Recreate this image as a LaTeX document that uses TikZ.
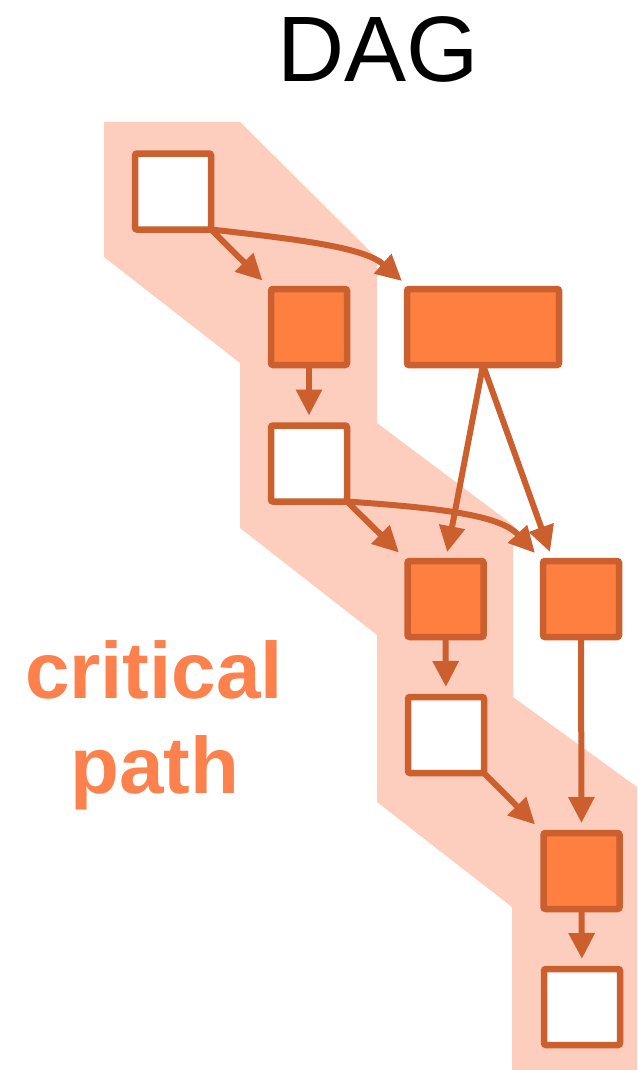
\documentclass[tikz,border=0pt]{standalone}
\usepackage{fontspec}
\setmainfont{Liberation Sans}
\usetikzlibrary{arrows.meta,calc}
\definecolor{bandbg}{RGB}{253,206,189}
\definecolor{edgeclr}{RGB}{204,95,46}
\definecolor{taskfill}{RGB}{254,127,64}
\definecolor{labelclr}{RGB}{252,129,76}
\tikzset{
  taskbox/.style={draw=edgeclr, line width=6.5pt, rounded corners=2pt, outer sep=0pt,
    minimum width=76pt, minimum height=76pt, inner sep=0pt},
  donebox/.style={taskbox, fill=white},
  hotbox/.style={taskbox, fill=taskfill},
  dep/.style={draw=edgeclr, line width=6pt, -{Triangle[length=26pt,width=25pt]}},
}
\begin{document}
\begin{tikzpicture}[x=1pt,y=-1pt]
\useasboundingbox (0,0) rectangle (637,1070);
% critical path band
\fill[bandbg] (104,122) -- (240,122) -- (377,258) -- (377,423) -- (513,525) -- (513,697)
  -- (637,787) -- (637,1070) -- (512,1070) -- (512,907) -- (377,802) -- (377,635)
  -- (240,528) -- (240,363) -- (104,257) -- cycle;
% title
\node[anchor=base, inner sep=0pt, font=\fontsize{93}{93}\selectfont] (title) at (378.5,82) {DAG};
% label
\node[anchor=base, inner sep=0pt, text=labelclr, font=\fontsize{80}{95}\selectfont\bfseries] (lab1) at (154,698) {critical};
\node[anchor=base, inner sep=0pt, text=labelclr, font=\fontsize{80}{95}\selectfont\bfseries] (lab2) at (155,793) {path};
% tasks
\node[donebox] (A) at (173,191.5) {};
\node[hotbox]  (B) at (309,327) {};
\node[hotbox, minimum width=152pt] (C) at (483,327) {};
\node[donebox] (D) at (309,463.5) {};
\node[hotbox]  (E) at (445.5,599) {};
\node[hotbox]  (F) at (581,599) {};
\node[donebox] (G) at (446,735) {};
\node[hotbox]  (H) at (581.5,871) {};
\node[donebox] (I) at (582,1007) {};
% tips
\coordinate (tAC) at ($(C.north west)+(-5,-8)$);
\coordinate (tDF) at ($(F.north west)+(-8,-8)$);
\coordinate (tCF) at ($(F.north west)+(7,-9)$);
% dependencies
\draw[dep, shorten >=12pt] (A.south east) -- (B.north west);
\draw[dep] (A.south east) .. controls (305,240) and (365,248) .. (tAC);
\draw[dep, shorten >=10pt] (B.south) -- (D.north);
\draw[dep, shorten >=9pt] (C.south) -- (E.north);
\draw[dep] (C.south) -- (tCF);
\draw[dep, shorten >=12pt] (D.south east) -- (E.north west);
\draw[dep] (D.south east) .. controls (440,508) and (500,515) .. (tDF);
\draw[dep, shorten >=10pt] (E.south) -- (G.north);
\draw[dep, shorten >=10pt] (F.south) -- (H.north);
\draw[dep, shorten >=12pt] (G.south east) -- (H.north west);
\draw[dep, shorten >=10pt] (H.south) -- (I.north);
\end{tikzpicture}
\end{document}
